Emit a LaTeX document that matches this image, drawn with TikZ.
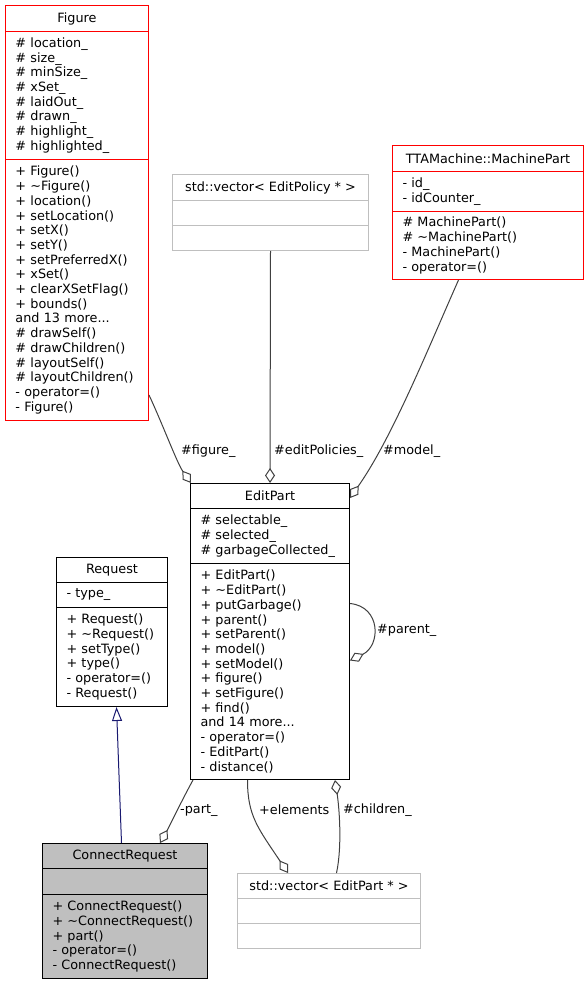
\documentclass[tikz,border=0pt]{standalone}
\usepackage{fontspec}
\setmainfont{DejaVu Sans}
\usetikzlibrary{arrows.meta}
\definecolor{edgegray}{HTML}{404040}
\definecolor{boxgray}{HTML}{BFBFBF}
\definecolor{classred}{HTML}{FF0000}
\definecolor{inherblue}{HTML}{191970}
\newcommand{\umlfont}{\fontsize{12.8}{14.7}\selectfont}

\begin{document}
\begin{tikzpicture}[x = 1pt, y = -1pt,
    every node/.style = {font = \umlfont},
    umlpart/.style = {draw, anchor = north west, inner xsep = 10pt, inner ysep = 0pt, line width = 1pt},
    members/.style = {umlpart, align = left, text width = #1},
    redclass/.style = {draw = classred},
    grayclass/.style = {draw = boxgray},
    current/.style = {fill = boxgray},
    assoc/.style = {draw = edgegray, line width = 1pt, -{Diamond[open, length = 15pt, width = 10pt]}},
    inherit/.style = {draw = inherblue, line width = 1pt, -{Triangle[open, length = 14pt, width = 10pt]}},
    role/.style = {anchor = west, inner sep = 0pt}]
    \useasboundingbox (0, 0) rectangle (588, 984);

    % Figure
    \node[umlpart, redclass, minimum width = 143pt, minimum height = 26pt] (figure) at (5, 5) {Figure};
    \node[members = 123pt, redclass, minimum height = 128pt] (figure-attr) at (5, 31)
        {\# location\_\\\# size\_\\\# minSize\_\\\# xSet\_\\\# laidOut\_\\\# drawn\_\\\# highlight\_\\\# highlighted\_};
    \node[members = 123pt, redclass, minimum height = 261pt] (figure-ops) at (5, 159)
        {+ Figure()\\+ \textasciitilde Figure()\\+ location()\\+ setLocation()\\+ setX()\\+ setY()\\+ setPreferredX()\\+ xSet()\\+ clearXSetFlag()\\+ bounds()\\and 13 more...\\\# drawSelf()\\\# drawChildren()\\\# layoutSelf()\\\# layoutChildren()\\- operator=()\\- Figure()};

    % std::vector< EditPolicy * >
    \node[umlpart, grayclass, minimum width = 196pt, minimum height = 26pt] (policies) at (172, 174) {std::vector< EditPolicy * >};
    \node[umlpart, grayclass, minimum width = 196pt, minimum height = 25pt] (policies-attr) at (172, 200) {};
    \node[umlpart, grayclass, minimum width = 196pt, minimum height = 25pt] (policies-ops) at (172, 225) {};

    % TTAMachine::MachinePart
    \node[umlpart, redclass, minimum width = 191pt, minimum height = 26pt] (machinepart) at (392, 145) {TTAMachine::MachinePart};
    \node[members = 171pt, redclass, minimum height = 40pt] (machinepart-attr) at (392, 171) {- id\_\\- idCounter\_};
    \node[members = 171pt, redclass, minimum height = 68pt] (machinepart-ops) at (392, 211)
        {\# MachinePart()\\\# \textasciitilde MachinePart()\\- MachinePart()\\- operator=()};

    % EditPart
    \node[umlpart, minimum width = 159pt, minimum height = 25pt] (editpart) at (190, 483) {EditPart};
    \node[members = 139pt, minimum height = 55pt] (editpart-attr) at (190, 508)
        {\# selectable\_\\\# selected\_\\\# garbageCollected\_};
    \node[members = 139pt, minimum height = 216pt] (editpart-ops) at (190, 563)
        {+ EditPart()\\+ \textasciitilde EditPart()\\+ putGarbage()\\+ parent()\\+ setParent()\\+ model()\\+ setModel()\\+ figure()\\+ setFigure()\\+ find()\\and 14 more...\\- operator=()\\- EditPart()\\- distance()};

    % Request
    \node[umlpart, minimum width = 111pt, minimum height = 25pt] (request) at (56, 557) {Request};
    \node[members = 91pt, minimum height = 25pt] (request-attr) at (56, 582) {- type\_};
    \node[members = 91pt, minimum height = 99pt] (request-ops) at (56, 607)
        {+ Request()\\+ \textasciitilde Request()\\+ setType()\\+ type()\\- operator=()\\- Request()};

    % ConnectRequest
    \node[umlpart, current, minimum width = 165pt, minimum height = 25pt] (connect) at (42, 843) {ConnectRequest};
    \node[umlpart, current, minimum width = 165pt, minimum height = 26pt] (connect-attr) at (42, 868) {};
    \node[members = 145pt, current, minimum height = 84pt] (connect-ops) at (42, 894)
        {+ ConnectRequest()\\+ \textasciitilde ConnectRequest()\\+ part()\\- operator=()\\- ConnectRequest()};

    % std::vector< EditPart * >
    \node[umlpart, grayclass, minimum width = 183pt, minimum height = 25pt] (partvec) at (237, 873) {std::vector< EditPart * >};
    \node[umlpart, grayclass, minimum width = 183pt, minimum height = 25pt] (partvec-attr) at (237, 898) {};
    \node[umlpart, grayclass, minimum width = 183pt, minimum height = 25pt] (partvec-ops) at (237, 923) {};

    % connectors
    \draw[assoc] ([yshift = 26pt]figure-ops.south east) .. controls +(14, 30) and +(-14, -20) .. ([xshift = 1pt]editpart.north west);
    \draw[assoc] (policies-ops.south) -- (editpart.north);
    \draw[assoc] ([xshift = -29.5pt]machinepart-ops.south) .. controls +(-31, 70) and +(42, -60) .. ([yshift = -2pt]editpart.east);
    \draw[assoc] ([yshift = 68pt]editpart-ops.east) .. controls +(31, 3) and +(31, -15) .. ([yshift = 11pt]editpart-ops.east);
    \draw[inherit] ([xshift = -3.5pt]connect.north) -- ([xshift = 4.5pt]request-ops.south);
    \draw[assoc] ([xshift = 3pt]editpart-ops.south west) .. controls +(-12, 22) and +(8, -14) .. ([xshift = -48pt]connect.north east);
    \draw[assoc] ([xshift = -22.5pt]editpart-ops.south) .. controls +(0, 36) and +(-30, -45) .. ([xshift = 51pt]partvec.north west);
    \draw[assoc] ([xshift = 7.5pt]partvec.north) .. controls +(6, -28) and +(4, 26) .. ([xshift = -15pt]editpart-ops.south east);

    % roles
    \node[role] (figure-role) at (181, 451) {\#figure\_};
    \node[role] (policies-role) at (274, 451) {\#editPolicies\_};
    \node[role] (model-role) at (383, 451) {\#model\_};
    \node[role] (parent-role) at (377, 630) {\#parent\_};
    \node[role] (part-role) at (180, 811) {-part\_};
    \node[role] (elements-role) at (259, 810) {+elements};
    \node[role] (children-role) at (343, 810) {\#children\_};
\end{tikzpicture}
\end{document}
